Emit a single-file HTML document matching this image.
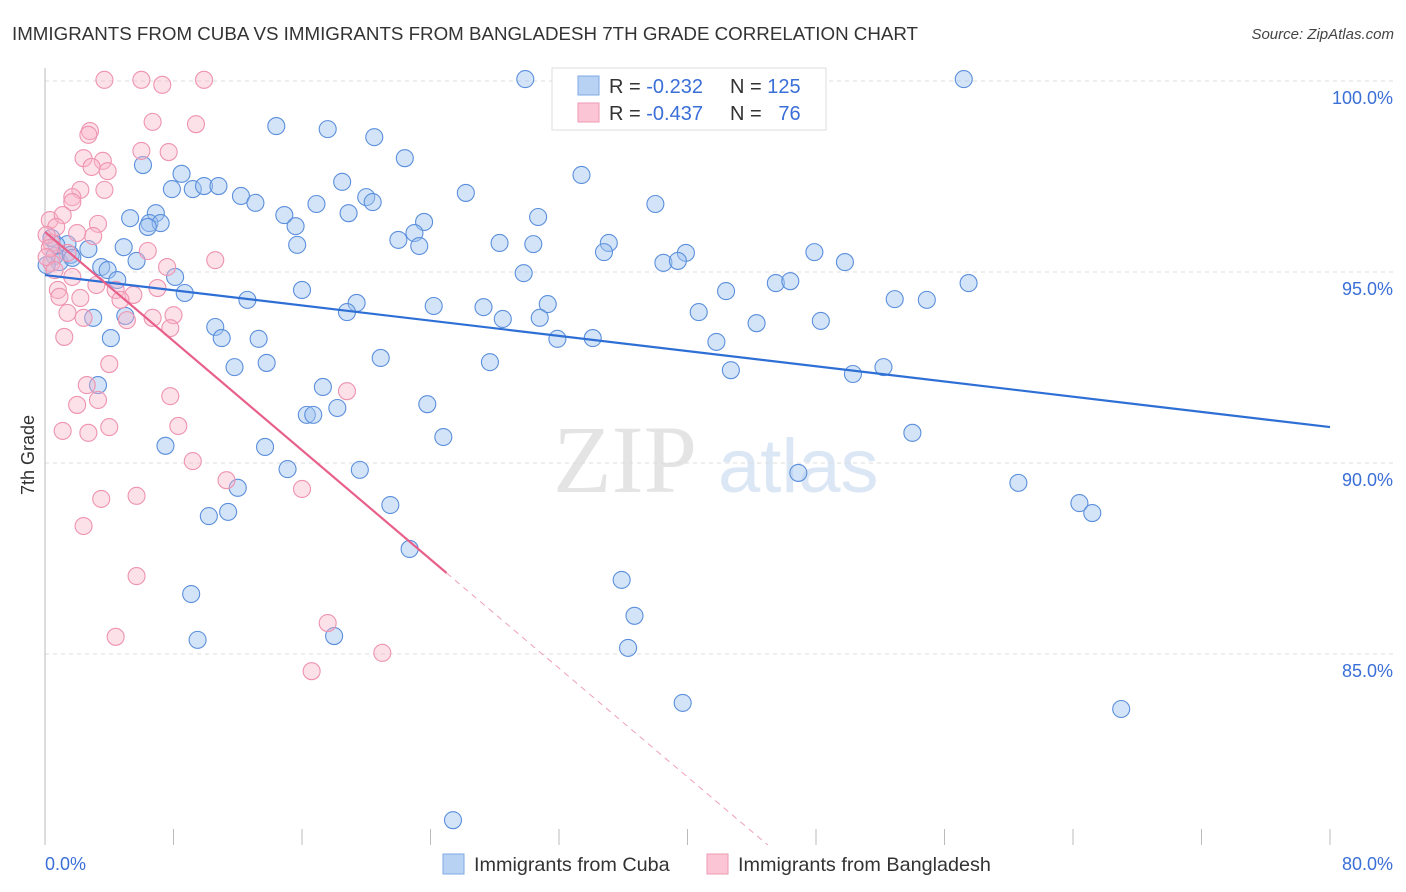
<!DOCTYPE html>
<html><head><meta charset="utf-8">
<style>
body{margin:0;background:#fff;font-family:"Liberation Sans",sans-serif;}
svg{display:block}
</style></head>
<body>
<svg id="chart" width="1406" height="892" xmlns="http://www.w3.org/2000/svg">
<text x="12" y="40" font-size="18" fill="#333" font-family="Liberation Sans" textLength="906" lengthAdjust="spacingAndGlyphs">IMMIGRANTS FROM CUBA VS IMMIGRANTS FROM BANGLADESH 7TH GRADE CORRELATION CHART</text>
<text x="1394" y="39" font-size="15" fill="#444" font-style="italic" text-anchor="end">Source: ZipAtlas.com</text>
<g>
<text x="553" y="492" font-size="96" fill="#e4e4e4" font-family="Liberation Serif">ZIP</text>
<text x="718" y="492" font-size="76" fill="#dce7f5">atlas</text>
</g>
<g id="grid"></g>
<g id="axes"></g>
<g id="blue"></g>
<g id="pink"></g>
<g id="trend"></g>
<text transform="translate(34,455) rotate(-90)" font-size="18" fill="#333" text-anchor="middle">7th Grade</text>
<g>
<rect x="552" y="68" width="274" height="62" fill="#fff" stroke="#ddd"/>
<rect x="578" y="76" width="21" height="19" fill="#b8d2f4" stroke="#7fa9e6"/>
<rect x="578" y="103" width="21" height="19" fill="#fcc5d5" stroke="#ef9ab4"/>
<text x="609" y="93" font-size="20" fill="#333">R = <tspan fill="#3a6fd8">-0.232</tspan></text>
<text x="730" y="93" font-size="20" fill="#333">N = <tspan fill="#3a6fd8">125</tspan></text>
<text x="609" y="120" font-size="20" fill="#333">R = <tspan fill="#3a6fd8">-0.437</tspan></text>
<text x="730" y="120" font-size="20" fill="#333">N = <tspan fill="#3a6fd8">&#160; 76</tspan></text>
</g>
<g>
<rect x="443" y="854" width="21" height="20" fill="#b8d2f4" stroke="#7fa9e6"/>
<text x="474" y="871" font-size="19.8" fill="#333">Immigrants from Cuba</text>
</g>
<g>
<rect x="707" y="854" width="21" height="20" fill="#fcc5d5" stroke="#ef9ab4"/>
<text x="738" y="871" font-size="19.8" fill="#333">Immigrants from Bangladesh</text>
</g>
</svg>
<script>
const blueX=[29.9,57.2,14.4,17.6,20.5,22.4,6.1,33.4,8.5,18.5,7.9,9.2,9.9,10.8,12.2,13.1,26.2,20.0,20.4,16.9,18.9,38.0,5.3,6.9,6.5,7.2,6.4,14.9,15.6,30.7,23.6,23.0,22.0,23.3,4.9,15.7,28.3,30.4,35.1,34.8,1.4,2.7,47.9,39.9,38.5,39.4,5.7,49.8,3.5,3.9,29.8,8.1,8.7,4.5,45.5,46.4,57.5,16.0,42.4,12.6,19.4,18.8,24.2,27.3,31.3,52.9,54.9,40.7,28.5,30.8,44.3,48.3,3.0,5.0,10.6,11.0,13.3,4.1,31.9,34.1,41.8,20.9,11.8,13.8,27.7,42.7,50.3,52.2,3.3,17.3,18.2,16.3,16.7,23.8,24.8,54.0,7.5,13.7,15.1,19.6,46.9,60.6,12.0,21.5,11.4,10.2,64.4,65.2,22.7,35.9,36.7,9.1,9.5,18.0,36.3,39.7,67.0,25.4,0.6,0.9,1.6,1.7,0.1,0.7,0.4];
const blueY=[100.05,100.05,98.82,98.74,98.53,97.98,97.80,97.54,97.57,97.36,97.17,97.17,97.25,97.25,96.99,96.81,97.07,96.96,96.83,96.78,96.54,96.78,96.41,96.54,96.28,96.28,96.18,96.49,96.20,96.44,96.31,96.02,95.84,95.68,95.65,95.71,95.76,95.73,95.76,95.52,95.73,95.60,95.52,95.50,95.24,95.29,95.29,95.26,95.13,95.05,94.97,94.87,94.45,94.79,94.71,94.76,94.71,94.53,94.50,94.27,94.19,93.95,94.11,94.08,94.16,94.29,94.27,93.95,93.77,93.80,93.66,93.72,93.80,93.85,93.56,93.27,93.25,93.27,93.25,93.27,93.17,92.75,92.51,92.62,92.64,92.43,92.33,92.51,92.04,91.99,91.44,91.26,91.26,91.54,90.68,90.79,90.45,90.42,89.84,89.82,89.74,89.48,89.35,88.90,88.72,88.61,88.95,88.69,87.75,86.94,86.00,86.57,85.37,85.47,85.16,83.72,83.56,80.65,95.42,95.26,95.45,95.37,95.18,95.71,95.89];
const pinkX=[3.7,6.0,7.3,9.9,6.7,9.4,2.8,2.7,6.0,7.7,2.4,3.6,2.9,3.9,2.2,3.7,1.7,1.7,0.3,1.1,3.3,3.0,0.7,2.0,0.4,1.4,6.4,10.6,0.4,1.7,7.6,0.8,0.9,2.2,3.2,4.4,5.5,4.7,7.0,1.4,2.4,5.1,6.7,8.0,7.8,1.2,4.0,2.6,7.8,2.0,3.3,1.1,2.7,4.0,8.3,9.2,11.3,16.0,5.7,3.5,2.4,5.7,4.4,17.6,16.6,21.0,18.8,0.1,0.3,0.1,0.6];
const pinkY=[100.03,100.03,99.90,100.03,98.93,98.87,98.69,98.59,98.17,98.14,97.98,97.91,97.75,97.64,97.15,97.15,96.96,96.83,96.36,96.49,96.26,95.94,96.18,96.02,95.76,95.50,95.55,95.31,95.24,94.87,95.13,94.53,94.35,94.32,94.66,94.53,94.40,94.27,94.58,93.93,93.80,93.74,93.80,93.87,93.53,93.30,92.59,92.04,91.75,91.52,91.65,90.84,90.79,90.94,90.97,90.05,89.55,89.32,89.14,89.06,88.35,87.04,85.45,85.81,84.55,85.03,91.88,95.97,95.63,95.39,95.05];
const yTicks=[100,95,90,85];
const yTickLabels=["100.0%","95.0%","90.0%","85.0%"];
const blueTrend=[94.92,90.94];
const pinkTrend=[96.05,87.12,80];
const pinkTrendX=[0,25.0,45.0];

const NS="http://www.w3.org/2000/svg";
const X0=45,X1=1330,Y100=81,PPU=38.2;
const sx=v=>X0+(X1-X0)*v/80;
const sy=v=>Y100+(100-v)*PPU;
function mk(tag,attrs,parent){const e=document.createElementNS(NS,tag);for(const k in attrs)e.setAttribute(k,attrs[k]);parent.appendChild(e);return e;}
const grid=document.getElementById('grid'),axes=document.getElementById('axes');
yTicks.forEach((t,i)=>{
 const l=mk('line',{x1:X0,x2:1393,y1:sy(t),y2:sy(t),stroke:'#ddd','stroke-dasharray':'4,4'},grid);
 
 
 const tx=mk('text',{x:1393,y:sy(t)+23,'font-size':18,fill:'#3a6fd8','text-anchor':'end'},axes);
 tx.textContent=yTickLabels[i];
 
 
});
const ax=mk('line',{x1:X0,x2:X0,y1:68,y2:845,stroke:'#bbb'},axes);


for(let v=0;v<=80;v+=8){
 const t=mk('line',{x1:sx(v),x2:sx(v),y1:829,y2:845,stroke:'#bbb'},axes);
 
 
}
const xl=mk('text',{x:45,y:870,'font-size':18,fill:'#3a6fd8'},axes);xl.textContent='0.0%';


const xr=mk('text',{x:1393,y:870,'font-size':18,fill:'#3a6fd8','text-anchor':'end'},axes);xr.textContent='80.0%';


const gb=document.getElementById('blue'),gp=document.getElementById('pink');
blueX.forEach((x,i)=>{
 const c=mk('circle',{cx:sx(x),cy:sy(blueY[i]),r:8.5,fill:'rgba(160,196,240,0.45)',stroke:'#5b8fdc','stroke-width':1.1},gb);
 
 
});
pinkX.forEach((x,i)=>{
 const c=mk('circle',{cx:sx(x),cy:sy(pinkY[i]),r:8.5,fill:'rgba(250,180,200,0.4)',stroke:'#ee93b0','stroke-width':1.1},gp);
 
 
});
const gt=document.getElementById('trend');
const bl=mk('line',{x1:sx(0),y1:sy(blueTrend[0]),x2:sx(80),y2:sy(blueTrend[1]),stroke:'#2e6fd6','stroke-width':2.2},gt);


const pl=mk('line',{x1:sx(pinkTrendX[0]),y1:sy(pinkTrend[0]),x2:sx(pinkTrendX[1]),y2:sy(pinkTrend[1]),stroke:'#e8608a','stroke-width':2.2},gt);


const pd=mk('line',{x1:sx(pinkTrendX[1]),y1:sy(pinkTrend[1]),x2:sx(pinkTrendX[2]),y2:sy(pinkTrend[2]),stroke:'#eea0b8','stroke-width':1,'stroke-dasharray':'6,5'},gt);


</script>
</body></html>
